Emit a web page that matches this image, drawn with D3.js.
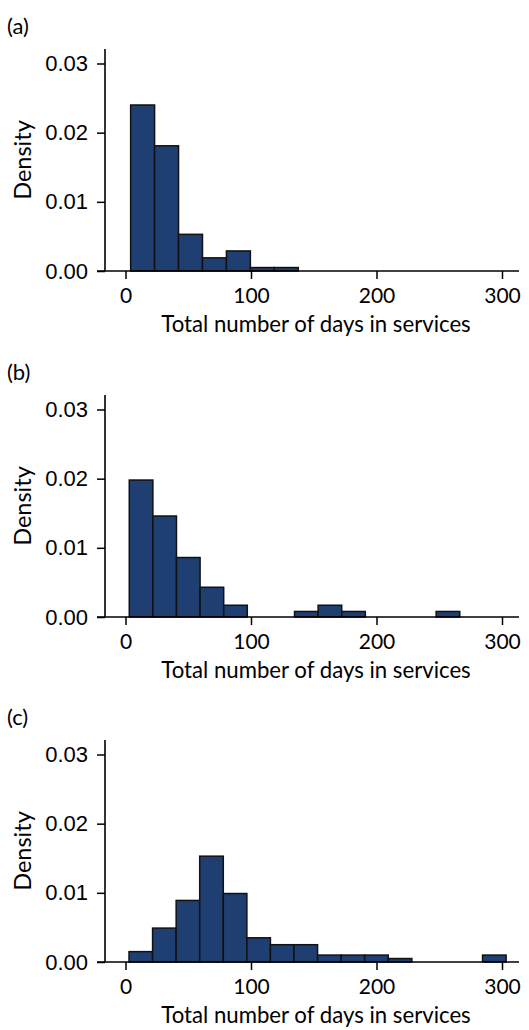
<!DOCTYPE html>
<html><head><meta charset="utf-8">
<script src="https://cdn.jsdelivr.net/npm/d3@7"></script>
<style>body{margin:0;background:#fff}svg{display:block}</style>
</head><body>
<script>
// Data
const panelLabels = ["(a)", "(b)", "(c)"];
const binWidths = [19.08, 18.81, 18.78];
const binStarts = [4.1, 3.0, 2.8];
const densityA = [0.0240, 0.0181, 0.0053, 0.0019, 0.0029, 0.0005, 0.0005];
const densityB = [0.0198, 0.0146, 0.0086, 0.0043, 0.0017, 0, 0, 0.0008, 0.0017, 0.0008, 0, 0, 0, 0.0008];
const densityC = [0.0015, 0.0049, 0.0089, 0.0153, 0.0099, 0.0035, 0.0025, 0.0025, 0.0010, 0.0010, 0.0010, 0.0005, 0, 0, 0, 0.0010];
const xTicks = [0, 100, 200, 300];
const yTicks = [0.00, 0.01, 0.02, 0.03];
const xTitle = "Total number of days in services";
const yTitle = "Density";

const densities = [densityA, densityB, densityC];
const W = 529, H = 1030;
const svg = d3.select("body").append("svg").attr("width", W).attr("height", H);

const panelBottom = [271, 617, 962];
const plotH = 222;
const x = d3.scaleLinear().domain([0, 300]).range([125.5, 502]);
const xLeft = 105, xRight = 519;

densities.forEach((dens, i) => {
  const g = svg.append("g").attr("transform", `translate(0,${panelBottom[i] - plotH})`);
  const y = d3.scaleLinear().domain([0, 0.03]).range([plotH, plotH - 207.5]);
  const bins = dens.map((d, k) => ({x0: binStarts[i] + k * binWidths[i], x1: binStarts[i] + (k + 1) * binWidths[i], d}));
  g.selectAll("rect.bar").data(bins.filter(b => b.d > 0)).join("rect")
    .attr("class", "bar")
    .attr("x", b => x(b.x0)).attr("width", b => x(b.x1) - x(b.x0))
    .attr("y", b => y(b.d)).attr("height", b => y(0) - y(b.d))
    .attr("fill", "#1f3f72").attr("stroke", "#111").attr("stroke-width", 1.5);

  // y axis
  const ya = g.append("g").attr("transform", `translate(${xLeft},0)`)
    .call(d3.axisLeft(y).tickValues(yTicks).tickFormat(d3.format(".2f")).tickSize(8).tickPadding(9));
  ya.select(".domain").remove();
  ya.append("line").attr("x1", 0).attr("x2", 0).attr("y1", 0).attr("y2", plotH).attr("stroke", "#000").attr("stroke-width", 1.6);
  ya.selectAll(".tick line").attr("stroke", "#000").attr("stroke-width", 1.5);
  ya.selectAll(".tick text").attr("font-family", "'Liberation Sans', Arial, sans-serif").attr("font-size", 22).attr("fill", "#000");

  // x axis
  const xa = g.append("g").attr("transform", `translate(0,${plotH})`)
    .call(d3.axisBottom(x).tickValues(xTicks).tickSize(8).tickPadding(9));
  xa.select(".domain").remove();
  xa.append("line").attr("x1", xLeft - 8).attr("x2", xRight).attr("y1", 0).attr("y2", 0).attr("stroke", "#000").attr("stroke-width", 1.6);
  xa.selectAll(".tick line").attr("stroke", "#000").attr("stroke-width", 1.5);
  xa.selectAll(".tick text").attr("font-family", "Lato, sans-serif").attr("font-size", 21).attr("fill", "#000");

  g.append("text").attr("x", 316).attr("y", plotH + 61).attr("text-anchor", "middle")
    .attr("font-family", "Lato, sans-serif").attr("font-size", 22.2).text(xTitle);
  g.append("text").attr("transform", `translate(31,${plotH / 2}) rotate(-90)`).attr("text-anchor", "middle")
    .attr("font-family", "Lato, sans-serif").attr("font-size", 23.5).text(yTitle);
  g.append("text").attr("x", 7).attr("y", -15).attr("font-family", "Lato, sans-serif")
    .attr("font-size", 22).text(panelLabels[i]);
});
</script>
</body></html>
